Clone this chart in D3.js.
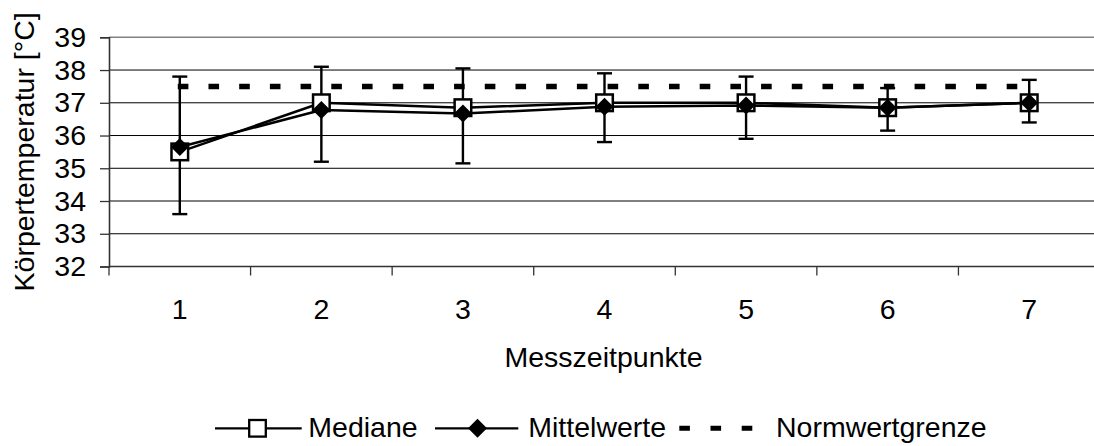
<!DOCTYPE html>
<html>
<head>
<meta charset="utf-8">
<script src="https://cdn.jsdelivr.net/npm/d3@7"></script>
<style>
  html, body { margin: 0; padding: 0; background: #fff; }
  svg { display: block; font-family: "Liberation Sans", Arial, sans-serif; }
</style>
</head>
<body>
<svg id="chart" width="1094" height="446"></svg>
<script>
// Body temperature at seven measurement points
const categories = [1, 2, 3, 4, 5, 6, 7];
const medianValues = [35.5, 37.0, 36.85, 37.0, 37.0, 36.85, 37.0];
const meanValues = [35.65, 36.78, 36.67, 36.88, 36.92, 36.85, 37.0];
const errorHigh = [37.8, 38.1, 38.05, 37.9, 37.8, 37.45, 37.7];
const errorLow = [33.6, 35.2, 35.15, 35.8, 35.9, 36.15, 36.4];
const normLimit = 37.5;
const yTickValues = [32, 33, 34, 35, 36, 37, 38, 39];
const yTitle = "Körpertemperatur [°C]";
const xTitle = "Messzeitpunkte";
const legendLabels = ["Mediane", "Mittelwerte", "Normwertgrenze"];

const svg = d3.select("#chart");
const plot = { left: 109, right: 1100, top: 37.3, bottom: 266.5 };
const fontSize = 28.5;

const x = d3.scaleBand().domain(categories).range([plot.left, plot.right]).padding(0);
const cx = c => x(c) + x.bandwidth() / 2;
const y = d3.scaleLinear().domain([32, 39]).range([plot.bottom, plot.top]);

// horizontal gridlines
svg.append("g")
  .selectAll("line")
  .data(yTickValues)
  .join("line")
  .attr("x1", plot.left).attr("x2", plot.right)
  .attr("y1", d => y(d)).attr("y2", d => y(d))
  .attr("stroke", d => d === 39 ? "#808080" : "#000")
  .attr("stroke-width", d => d === 39 ? 1.6 : 1);

// y axis
const yAxis = svg.append("g")
  .attr("transform", `translate(${plot.left},0)`)
  .call(d3.axisLeft(y).tickValues(yTickValues).tickSize(9).tickPadding(14).tickFormat(d3.format("d")));
yAxis.select(".domain").attr("stroke", "#333").attr("stroke-width", 1.6);
yAxis.selectAll(".tick line").attr("stroke", "#333").attr("stroke-width", 1.3);
yAxis.selectAll("text")
  .attr("font-size", fontSize)
  .attr("fill", "#000")
  .attr("font-family", "'Liberation Sans', Arial, sans-serif");

// x axis line and category separator ticks
svg.append("line")
  .attr("x1", plot.left).attr("x2", plot.right)
  .attr("y1", plot.bottom).attr("y2", plot.bottom)
  .attr("stroke", "#333").attr("stroke-width", 1.6);
const edges = categories.map(c => x(c)).concat([plot.right]);
svg.append("g")
  .selectAll("line")
  .data(edges)
  .join("line")
  .attr("x1", d => d).attr("x2", d => d)
  .attr("y1", plot.bottom).attr("y2", plot.bottom + 9)
  .attr("stroke", "#333").attr("stroke-width", 1.3);
svg.append("g")
  .selectAll("text")
  .data(categories)
  .join("text")
  .attr("x", d => cx(d))
  .attr("y", 318.5)
  .attr("text-anchor", "middle")
  .attr("font-size", fontSize)
  .text(d => d);

// axis titles
svg.append("text")
  .attr("transform", `translate(34,${(plot.top + plot.bottom) / 2}) rotate(-90)`)
  .attr("text-anchor", "middle")
  .attr("font-size", fontSize)
  .text(yTitle);
svg.append("text")
  .attr("x", (plot.left + plot.right) / 2 - 1)
  .attr("y", 366.7)
  .attr("text-anchor", "middle")
  .attr("font-size", fontSize)
  .text(xTitle);

// error bars around the mean
const err = svg.append("g").attr("stroke", "#000").attr("stroke-width", 2.4);
categories.forEach((c, i) => {
  err.append("line").attr("x1", cx(c)).attr("x2", cx(c))
    .attr("y1", y(errorHigh[i])).attr("y2", y(errorLow[i]));
  [errorHigh[i], errorLow[i]].forEach(v => {
    err.append("line").attr("x1", cx(c) - 7.5).attr("x2", cx(c) + 7.5)
      .attr("y1", y(v)).attr("y2", y(v));
  });
});

const diamond = (px, py, r) => `M${px},${py - r}L${px + r},${py}L${px},${py + r}L${px - r},${py}Z`;

// median series
const line = d3.line().x((d, i) => cx(categories[i])).y(d => y(d));
svg.append("path")
  .datum(medianValues)
  .attr("d", line)
  .attr("fill", "none").attr("stroke", "#000").attr("stroke-width", 2.5);
svg.append("g")
  .selectAll("rect")
  .data(medianValues)
  .join("rect")
  .attr("x", (d, i) => cx(categories[i]) - 8.3)
  .attr("y", d => y(d) - 8.3)
  .attr("width", 16.6).attr("height", 16.6)
  .attr("fill", "#fff").attr("stroke", "#000").attr("stroke-width", 2.5);

// mean series
svg.append("path")
  .datum(meanValues)
  .attr("d", line)
  .attr("fill", "none").attr("stroke", "#000").attr("stroke-width", 2.5);
svg.append("g")
  .selectAll("path")
  .data(meanValues)
  .join("path")
  .attr("d", (d, i) => diamond(cx(categories[i]), y(d), 9))
  .attr("fill", "#000");

// reference limit
svg.append("line")
  .attr("x1", cx(categories[0]) - 2).attr("x2", cx(categories[categories.length - 1]))
  .attr("y1", y(normLimit)).attr("y2", y(normLimit))
  .attr("stroke", "#000").attr("stroke-width", 5.5)
  .attr("stroke-dasharray", "10.6,20.1");

// legend
const ly = 428.3;
const legend = svg.append("g");
legend.append("line").attr("x1", 215).attr("x2", 301.7).attr("y1", ly).attr("y2", ly)
  .attr("stroke", "#000").attr("stroke-width", 2.2);
legend.append("rect").attr("x", 257.5 - 8.3).attr("y", ly - 8.3).attr("width", 16.6).attr("height", 16.6)
  .attr("fill", "#fff").attr("stroke", "#000").attr("stroke-width", 2.3);
legend.append("text").attr("x", 308.3).attr("y", 436.7).attr("font-size", fontSize).text(legendLabels[0]);

legend.append("line").attr("x1", 435).attr("x2", 518.3).attr("y1", ly).attr("y2", ly)
  .attr("stroke", "#000").attr("stroke-width", 2.2);
legend.append("path").attr("d", diamond(477.5, ly, 9.5)).attr("fill", "#000");
legend.append("text").attr("x", 528.3).attr("y", 436.7).attr("font-size", fontSize).text(legendLabels[1]);

legend.append("line").attr("x1", 679.3).attr("x2", 755).attr("y1", ly).attr("y2", ly)
  .attr("stroke", "#000").attr("stroke-width", 5)
  .attr("stroke-dasharray", "10.6,20.6");
legend.append("text").attr("x", 776).attr("y", 436.7).attr("font-size", fontSize).text(legendLabels[2]);
</script>
</body>
</html>
